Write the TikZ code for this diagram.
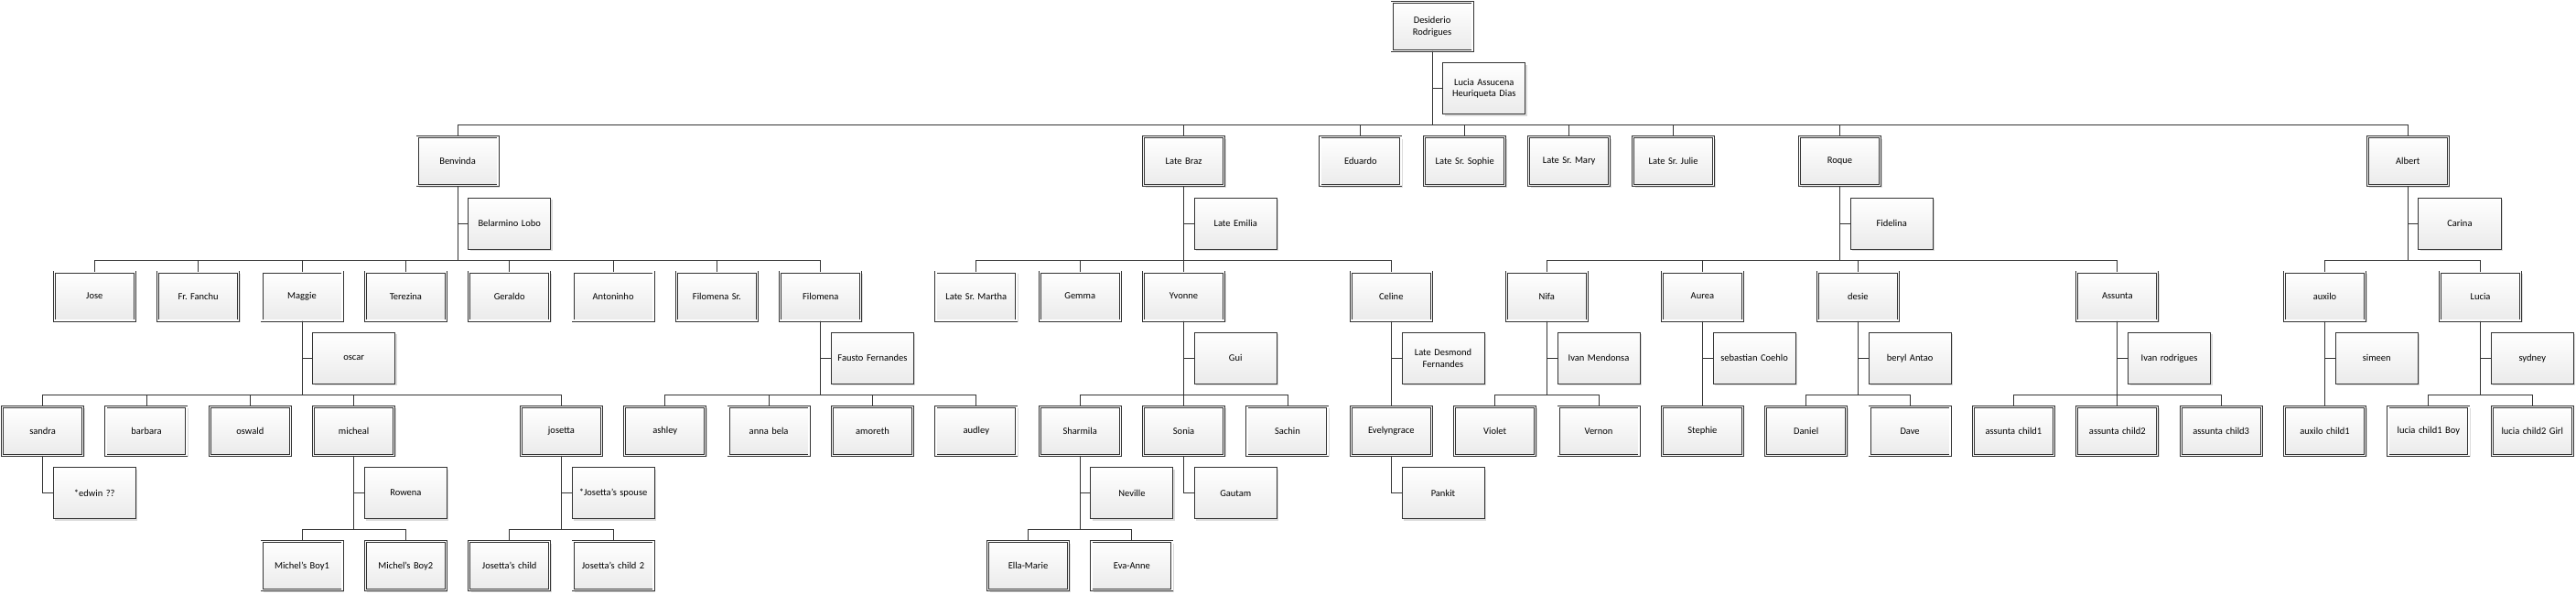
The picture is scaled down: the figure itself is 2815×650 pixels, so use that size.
\documentclass[tikz,border=0pt]{standalone}
\usepackage{fontspec}
\setmainfont{Carlito}
\usepackage{tikz}
\usetikzlibrary{shadows}
\frenchspacing

\begin{document}
\begin{tikzpicture}[x=56.68pt,y=-147.3pt,
    box/.style={rectangle,draw=black!80,line width=.85pt,
      top color=white,bottom color=black!8,
      drop shadow={shadow xshift=2pt,shadow yshift=-2pt,fill=black!40,opacity=.35},
      text width=80pt,align=center,inner sep=0pt,
      font=\fontsize{10.5}{12.7}\selectfont},
    blood/.style={box,double,double distance=1.3pt,minimum width=88pt,minimum height=53pt},
    inlaw/.style={box,minimum width=90pt,minimum height=56pt},
    link/.style={draw=black!80,line width=.85pt}]
    \useasboundingbox (-46.6pt,29pt) rectangle (2768.4pt,-621pt);
    \newcommand\member[4]{
      \node[blood] at (#1,#2) (#3) {#4};
    }
    \newcommand\partner[4]{
      \node[inlaw] at (#1,#2) (#3) {#4};
    }
    \newcommand\wed[2]{\draw[link] (#1.south) |- (#2.west);}
    \newcommand\kids[2]{
      \foreach \kid in {#2}
        \draw[link] (#1.south) -- ++(0,-81pt) -| (\kid.north);
    }
    % generation 0
    \member{26.79}{0}{des}{Desiderio\\Rodrigues}
    \partner{27.79}{.46}{luciaA}{Lucia Assucena\\Heuriqueta Dias}
    % generation 1
    \member{8}{1}{benv}{Benvinda}
    \partner{9}{1.46}{bela}{Belarmino Lobo}
    \member{22}{1}{braz}{Late Braz}
    \partner{23}{1.46}{emil}{Late Emilia}
    \member{25.41}{1}{edu}{Eduardo}
    \member{27.42}{1}{soph}{Late Sr. Sophie}
    \member{29.43}{1}{mary}{Late Sr. Mary}
    \member{31.44}{1}{julie}{Late Sr. Julie}
    \member{34.65}{1}{roque}{Roque}
    \partner{35.65}{1.46}{fide}{Fidelina}
    \member{45.6}{1}{albert}{Albert}
    \partner{46.6}{1.46}{carina}{Carina}
    % generation 2
    \member{1}{2}{jose}{Jose}
    \member{3}{2}{fanchu}{Fr. Fanchu}
    \member{5}{2}{maggie}{Maggie}
    \partner{6}{2.46}{oscar}{oscar}
    \member{7}{2}{terez}{Terezina}
    \member{9}{2}{gerald}{Geraldo}
    \member{11}{2}{anton}{Antoninho}
    \member{13}{2}{filsr}{Filomena Sr.}
    \member{15}{2}{filo}{Filomena}
    \partner{16}{2.46}{fausto}{Fausto Fernandes}
    \member{18}{2}{martha}{Late Sr. Martha}
    \member{20}{2}{gemma}{Gemma}
    \member{22}{2}{yvonne}{Yvonne}
    \partner{23}{2.46}{gui}{Gui}
    \member{26}{2}{celine}{Celine}
    \partner{27}{2.46}{desmond}{Late Desmond\\Fernandes}
    \member{29}{2}{nifa}{Nifa}
    \partner{30}{2.46}{ivanm}{Ivan Mendonsa}
    \member{32}{2}{aurea}{Aurea}
    \partner{33}{2.46}{sebas}{sebastian Coehlo}
    \member{35}{2}{desie}{desie}
    \partner{36}{2.46}{beryl}{beryl Antao}
    \member{40}{2}{assunta}{Assunta}
    \partner{41}{2.46}{ivanr}{Ivan rodrigues}
    \member{44}{2}{auxilo}{auxilo}
    \partner{45}{2.46}{simeen}{simeen}
    \member{47}{2}{luc}{Lucia}
    \partner{48}{2.46}{sydney}{sydney}
    % generation 3
    \member{0}{3}{sandra}{sandra}
    \partner{1}{3.46}{edwin}{*edwin ??}
    \member{2}{3}{barbara}{barbara}
    \member{4}{3}{oswald}{oswald}
    \member{6}{3}{micheal}{micheal}
    \partner{7}{3.46}{rowena}{Rowena}
    \member{10}{3}{josetta}{josetta}
    \partner{11}{3.46}{jspouse}{*Josetta's spouse}
    \member{12}{3}{ashley}{ashley}
    \member{14}{3}{annab}{anna bela}
    \member{16}{3}{amoreth}{amoreth}
    \member{18}{3}{audley}{audley}
    \member{20}{3}{sharm}{Sharmila}
    \partner{21}{3.46}{nev}{Neville}
    \member{22}{3}{sonia}{Sonia}
    \partner{23}{3.46}{gautam}{Gautam}
    \member{24}{3}{sachin}{Sachin}
    \member{26}{3}{evelyn}{Evelyngrace}
    \partner{27}{3.46}{pankit}{Pankit}
    \member{28}{3}{violet}{Violet}
    \member{30}{3}{vernon}{Vernon}
    \member{32}{3}{stephie}{Stephie}
    \member{34}{3}{daniel}{Daniel}
    \member{36}{3}{dave}{Dave}
    \member{38}{3}{asc1}{assunta child1}
    \member{40}{3}{asc2}{assunta child2}
    \member{42}{3}{asc3}{assunta child3}
    \member{44}{3}{axc1}{auxilo child1}
    \member{46}{3}{lcb}{lucia child1 Boy}
    \member{48}{3}{lcg}{lucia child2 Girl}
    % generation 4
    \member{5}{4}{boy1}{Michel's Boy1}
    \member{7}{4}{boy2}{Michel's Boy2}
    \member{9}{4}{jc1}{Josetta's child}
    \member{11}{4}{jc2}{Josetta's child 2}
    \member{19}{4}{ella}{Ella-Marie}
    \member{21}{4}{eva}{Eva-Anne}
    % spouses
    \wed{des}{luciaA} \wed{benv}{bela} \wed{braz}{emil} \wed{roque}{fide}
    \wed{albert}{carina} \wed{maggie}{oscar} \wed{filo}{fausto} \wed{yvonne}{gui}
    \wed{celine}{desmond} \wed{nifa}{ivanm} \wed{aurea}{sebas} \wed{desie}{beryl}
    \wed{assunta}{ivanr} \wed{auxilo}{simeen} \wed{luc}{sydney} \wed{sandra}{edwin}
    \wed{micheal}{rowena} \wed{josetta}{jspouse} \wed{sharm}{nev} \wed{sonia}{gautam}
    \wed{evelyn}{pankit}
    % children
    \kids{des}{benv,braz,edu,soph,mary,julie,roque,albert}
    \kids{benv}{jose,fanchu,maggie,terez,gerald,anton,filsr,filo}
    \kids{braz}{martha,gemma,yvonne,celine}
    \kids{roque}{nifa,aurea,desie,assunta}
    \kids{albert}{auxilo,luc}
    \kids{maggie}{sandra,barbara,oswald,micheal,josetta}
    \kids{filo}{ashley,annab,amoreth,audley}
    \kids{yvonne}{sharm,sonia,sachin}
    \kids{celine}{evelyn}
    \kids{nifa}{violet,vernon}
    \kids{aurea}{stephie}
    \kids{desie}{daniel,dave}
    \kids{assunta}{asc1,asc2,asc3}
    \kids{auxilo}{axc1}
    \kids{luc}{lcb,lcg}
    \kids{micheal}{boy1,boy2}
    \kids{josetta}{jc1,jc2}
    \kids{sharm}{ella,eva}
\end{tikzpicture}
\end{document}
